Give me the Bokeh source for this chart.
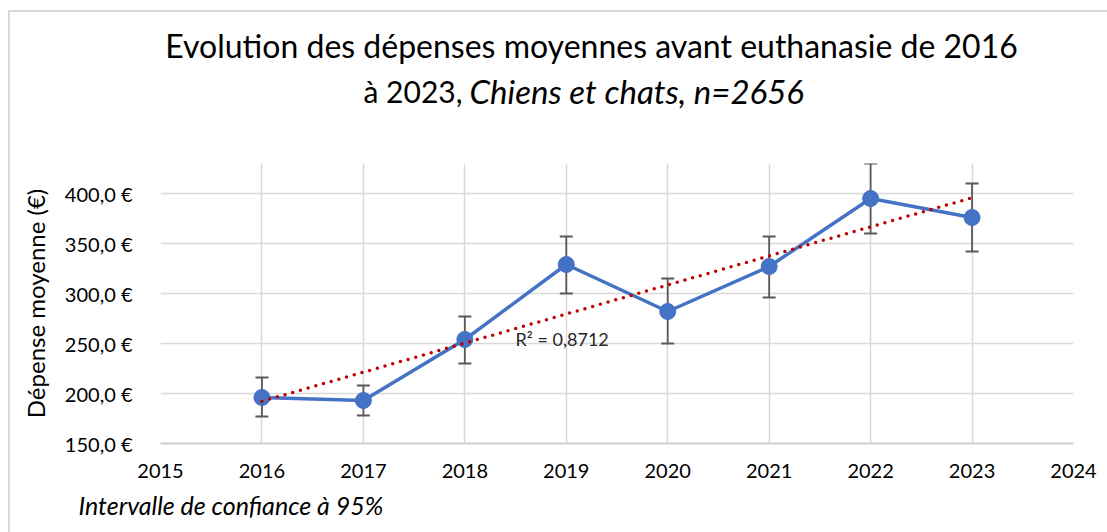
from bokeh.plotting import figure
from bokeh.models import ColumnDataSource, Whisker, Label, FixedTicker, TeeHead, Title
from bokeh.layouts import column
from bokeh.core.properties import value
from bokeh.embed import file_html
from bokeh.resources import INLINE
import numpy as np

years = [2016, 2017, 2018, 2019, 2020, 2021, 2022, 2023]
depense = [196, 193, 254, 329, 282, 327, 395, 376]
ic_haut = [216, 208, 277, 357, 315, 357, 430, 410]
ic_bas = [177, 178, 230, 300, 250, 296, 360, 342]
x_ticks = [2015, 2016, 2017, 2018, 2019, 2020, 2021, 2022, 2023, 2024]
y_ticks = [150, 200, 250, 300, 350, 400]
y_tick_labels = ["150,0 €", "200,0 €", "250,0 €", "300,0 €", "350,0 €", "400,0 €"]
r2_text = "R² = 0,8712"
title_1 = "Evolution des dépenses moyennes avant euthanasie de 2016"
title_2a = "à 2023,"
title_2b = "Chiens et chats, n=2656"
y_label = "Dépense moyenne (€)"
note = "Intervalle de confiance à 95%"

FONT = "Lato"
W = 1097
HH = 148
MH = 372
FL, FR = 160, 1073  # page x of the chart frame (header frame aligns to it)

# ---- header figure (title) ----
h = figure(width=W, height=HH, output_backend="svg", toolbar_location=None,
           x_range=(FL, FR), y_range=(HH, 0), min_border=0)
h.axis.visible = False
h.grid.visible = False
h.outline_line_color = None
h.text(x=[591], y=[33], text=[title_1], text_font=value(FONT), text_font_size="32px",
       text_align="center", text_baseline="middle", text_color="#000000")
h.text(x=[462], y=[78], text=[title_2a], text_font=value(FONT), text_font_size="30px",
       text_align="right", text_baseline="middle", text_color="#000000")
h.text(x=[469], y=[78], text=[title_2b], text_font=value(FONT), text_font_size="33px",
       text_font_style="italic", text_align="left", text_baseline="middle", text_color="#000000")

# ---- main chart ----
p = figure(width=W, height=MH, output_backend="svg", toolbar_location=None,
           x_range=(2015, 2024), y_range=(150, 430),
           min_border_left=150, min_border_right=34, min_border_top=3, min_border_bottom=89)
p.outline_line_color = None

p.xaxis.ticker = FixedTicker(ticks=x_ticks)
p.yaxis.ticker = FixedTicker(ticks=y_ticks)
p.yaxis.major_label_overrides = {t: l for t, l in zip(y_ticks, y_tick_labels)}
for ax in (p.xaxis[0], p.yaxis[0]):
    ax.major_tick_line_color = None
    ax.minor_tick_line_color = None
    ax.major_label_text_font = FONT
    ax.major_label_text_color = "#000000"
p.xaxis.major_label_text_font_size = "20px"
p.yaxis.major_label_text_font_size = "20px"
p.yaxis.axis_line_color = None
p.xaxis.axis_line_color = "#d0d0d0"
p.xaxis.axis_line_width = 2
p.yaxis.major_label_standoff = 22
p.xaxis.major_label_standoff = 14
p.yaxis.axis_label = y_label
p.yaxis.axis_label_text_font = FONT
p.yaxis.axis_label_text_font_size = "24px"
p.yaxis.axis_label_text_font_style = "normal"
p.yaxis.axis_label_text_color = "#000000"
p.yaxis.axis_label_standoff = 12
p.xgrid.ticker = FixedTicker(ticks=x_ticks)
p.ygrid.ticker = FixedTicker(ticks=y_ticks)
p.xgrid.grid_line_color = "#d9d9d9"
p.ygrid.grid_line_color = "#d9d9d9"
p.xgrid.grid_line_width = 1.5
p.ygrid.grid_line_width = 1.5

# trendline (least squares from the data)
xa = np.array(years, dtype=float)
ya = np.array(depense, dtype=float)
slope, intercept = np.polyfit(xa, ya, 1)
tx = [years[0], years[-1]]
ty = [slope * t + intercept for t in tx]

src = ColumnDataSource(dict(x=years, y=depense, upper=ic_haut, lower=ic_bas))

p.line("x", "y", source=src, line_color="#4472C4", line_width=3.5)
p.scatter("x", "y", source=src, size=16, fill_color="#4472C4", line_color="#4472C4")

w = Whisker(source=src, base="x", upper="upper", lower="lower",
            line_color="#595959", line_width=1.8,
            upper_head=TeeHead(size=13, line_color="#595959", line_width=1.8),
            lower_head=TeeHead(size=13, line_color="#595959", line_width=1.8))
p.add_layout(w)

p.line(tx, ty, line_color="#C00000", line_width=3.5, line_dash="0 8", line_cap="round")

p.add_layout(Label(x=2018.5, y=255, text=r2_text, text_font=FONT, text_font_size="18px",
                   text_baseline="middle", text_align="left", text_color="#262626"))

t_note = Title(text=note, align="left", text_font=FONT, text_font_size="25px",
               text_font_style="italic", text_color="#000000", offset=-82, standoff=14)
p.add_layout(t_note, "below")

layout = column(h, p, spacing=0, margin=(10, 0, 0, 8),
                styles={"border-left": "2px solid #d9d9d9", "border-top": "2px solid #d9d9d9"})

open("out.html", "w").write(file_html(layout, INLINE))
